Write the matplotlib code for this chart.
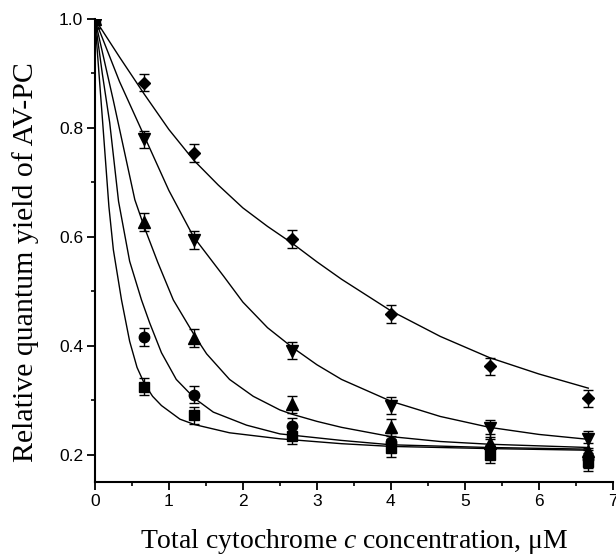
import matplotlib
matplotlib.use("Agg")
import matplotlib.pyplot as plt
import numpy as np
from matplotlib.ticker import MultipleLocator

plt.rcParams['mathtext.fontset'] = 'custom'
plt.rcParams['mathtext.rm'] = 'Liberation Serif'
plt.rcParams['mathtext.it'] = 'Liberation Serif:italic'

# measured points (total cytochrome c, uM)
conc = [0, 0.667, 1.333, 2.667, 4.0, 5.333, 6.667]
y_diamond = [1.0, 0.883, 0.754, 0.596, 0.458, 0.362, 0.303]
y_down = [1.0, 0.779, 0.594, 0.391, 0.290, 0.248, 0.228]
y_up = [1.0, 0.627, 0.414, 0.292, 0.250, 0.221, 0.206]
y_circle = [1.0, 0.416, 0.310, 0.252, 0.223, 0.212, 0.192]
y_square = [1.0, 0.325, 0.272, 0.235, 0.212, 0.200, 0.186]
err = 0.016

# fitted curves
fx_diamond = [0, 0.333, 0.667, 1.0, 1.333, 1.667, 2.0, 2.333, 2.667, 3.0, 3.333, 4.0, 4.667, 5.333, 6.0, 6.667]
fy_diamond = [1.0, 0.93, 0.862, 0.797, 0.741, 0.695, 0.653, 0.619, 0.588, 0.554, 0.522, 0.464, 0.417, 0.378, 0.348, 0.322]
fx_down = [0, 0.333, 0.667, 1.0, 1.333, 1.743, 2.0, 2.333, 2.667, 3.0, 3.333, 4.0, 4.667, 5.333, 6.0, 6.667]
fy_down = [1.0, 0.885, 0.785, 0.685, 0.600, 0.527, 0.480, 0.433, 0.397, 0.365, 0.338, 0.298, 0.270, 0.250, 0.237, 0.228]
fx_up = [0, 0.25, 0.54, 0.67, 0.85, 1.06, 1.24, 1.35, 1.51, 1.82, 2.14, 2.5, 2.667, 3.0, 3.333, 4.0, 4.667, 5.333, 6.0, 6.667]
fy_up = [1.0, 0.85, 0.668, 0.617, 0.553, 0.484, 0.443, 0.418, 0.385, 0.338, 0.307, 0.282, 0.274, 0.261, 0.250, 0.233, 0.224, 0.219, 0.216, 0.213]
fx_circle = [0, 0.1, 0.2, 0.32, 0.47, 0.63, 0.74, 0.9, 1.1, 1.35, 1.6, 2.05, 2.5, 3.333, 4.0, 5.333, 6.667]
fy_circle = [1.0, 0.9, 0.81, 0.665, 0.555, 0.484, 0.442, 0.387, 0.338, 0.303, 0.278, 0.254, 0.238, 0.226, 0.218, 0.213, 0.210]
fx_square = [0, 0.05, 0.1, 0.19, 0.25, 0.36, 0.47, 0.57, 0.67, 0.78, 0.9, 1.15, 1.35, 1.82, 2.5, 3.333, 4.0, 5.333, 6.667]
fy_square = [1.0, 0.91, 0.82, 0.655, 0.576, 0.484, 0.408, 0.36, 0.33, 0.307, 0.29, 0.265, 0.255, 0.24, 0.229, 0.220, 0.215, 0.211, 0.208]

fig = plt.figure(figsize=(6.16, 5.57), dpi=100)
ax = fig.add_axes([0.154, 0.135, 0.841, 0.831])

for fx, fy in [(fx_diamond, fy_diamond), (fx_down, fy_down), (fx_up, fy_up),
               (fx_circle, fy_circle), (fx_square, fy_square)]:
    ax.plot(fx, fy, color='black', lw=1.0)

series = [(y_square, 's', 6.5), (y_circle, 'o', 7.5), (y_up, '^', 8),
          (y_down, 'v', 8), (y_diamond, 'D', 6)]
for ys, mk, ms in series:
    ax.errorbar(conc, ys, yerr=err, fmt=mk, color='black', ms=ms,
                ecolor='black', elinewidth=1.0, capsize=3.5, capthick=1.0)

ax.set_xlim(0, 7)
ax.set_ylim(0.15, 1.0)
ax.xaxis.set_major_locator(MultipleLocator(1))
ax.xaxis.set_minor_locator(MultipleLocator(0.5))
ax.yaxis.set_minor_locator(MultipleLocator(0.1))
ax.set_yticks([0.2, 0.4, 0.6, 0.8, 1.0])
ax.set_yticklabels(['0.2', '0.4', '0.6', '0.8', '1.0'])

for s in ['top', 'right']:
    ax.spines[s].set_visible(False)
for s in ['left', 'bottom']:
    ax.spines[s].set_linewidth(1.5)

ax.tick_params(which='major', direction='out', length=5.5, width=1.3,
               labelsize=12.5, pad=3)
ax.tick_params(which='minor', direction='out', length=3, width=1.2)
for lab in ax.get_xticklabels() + ax.get_yticklabels():
    lab.set_family('Liberation Sans')

ax.set_xlabel('Total cytochrome $c$ concentration, $\\mathrm{\u03bc}$M',
              family='Liberation Serif', fontsize=20, labelpad=13)
ax.set_ylabel('Relative quantum yield of AV-PC',
              family='Liberation Serif', fontsize=21.5)
ax.yaxis.set_label_coords(-0.107, 0.475)

fig.savefig('out.png', dpi=100)
